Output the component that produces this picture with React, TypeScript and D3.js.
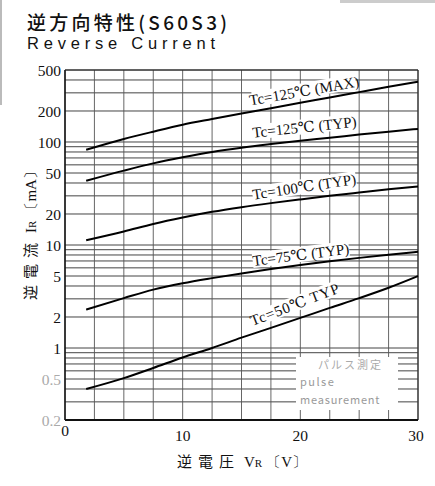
import React from "react";
import * as d3 from "d3";

const voltages = [1.8, 5, 7.5, 10, 12.5, 15, 17.5, 20, 22.5, 25, 27.5, 30];
const max125 = [84, 107, 126, 147, 167, 189, 213, 240, 271, 305, 343, 385];
const typ125 = [42, 52.7, 62, 71, 80, 88, 95.5, 103, 110, 118, 126, 134];
const typ100 = [11.1, 13.5, 16.0, 18.5, 21, 23.3, 25.5, 27.7, 30, 32.3, 34.7, 37];
const typ75 = [2.36, 3.05, 3.69, 4.25, 4.77, 5.3, 5.85, 6.4, 6.95, 7.5, 8.05, 8.6];
const typ50 = [0.4, 0.51, 0.64, 0.81, 1.0, 1.26, 1.57, 1.96, 2.45, 3.05, 3.85, 5.0];

const seriesNames = ["Tc=125℃ (MAX)", "Tc=125℃ (TYP)", "Tc=100℃ (TYP)", "Tc=75℃ (TYP)", "Tc=50℃  TYP"];
const seriesValues = [max125, typ125, typ100, typ75, typ50];
// label centre voltage, offset above curve (px), rotation (deg)
const labelV = [20.4, 20.4, 20.4, 20.1, 19.7];
const labelLift = [6, 8, 7, 5, 10];
const labelAngle = [-10, -6.2, -8.7, -7.3, -21];
const labelSpacing = [0, 0, 0, 0, 0.8];

const yTickLabels = [500, 200, 100, 50, 20, 10, 5, 2, 1, 0.5, 0.2];
const fadedTicks = [0.5, 0.2];
const xTickLabels = [0, 10, 20, 30];

const W = 435;
const H = 486;

export default function App() {
  const x = d3.scaleLinear().domain([0, 30]).range([65, 418]);
  const y = d3.scaleLog().domain([0.2, 500]).range([420, 70]);
  const gridY = y.ticks();
  const gridX = d3.range(0, 30.001, 2.5);

  const line = d3
    .line<number>()
    .x((_, i) => x(voltages[i]))
    .y((d) => y(d))
    .curve(d3.curveMonotoneX);

  const serif = "'Liberation Serif', 'DejaVu Serif', serif";
  const cjk = "'Noto Sans CJK JP', 'Noto Sans', sans-serif";
  const sans = "'Liberation Sans', Arial, sans-serif";

  const valueAt = (vals: number[], v: number) => {
    const logs = vals.map((d) => Math.log10(d));
    const interp = d3.scaleLinear().domain(voltages).range(logs);
    return Math.pow(10, interp(v));
  };

  return (
    <svg width={W} height={H} style={{ display: "block", position: "absolute", left: 0, top: 0 }}>
      <rect x={0} y={0} width={W} height={H} fill="#fff" />
      <rect x={0} y={0} width={2} height={105} fill="#bbb" />
      <rect x={340} y={0} width={95} height={3} fill="#ccc" />

      {/* title */}
      <text x={27} y={29.5} fontFamily={cjk} fontSize={19} fontWeight={500} fill="#111" textLength={200} lengthAdjust="spacing">
        逆方向特性(S60S3)
      </text>
      <text x={27} y={48.5} fontFamily={sans} fontSize={16.5} fill="#111" textLength={188} lengthAdjust="spacing">
        Reverse Current
      </text>

      {/* grid */}
      {gridY.map((v, i) => (
        <line key={"gy" + i} x1={x(0)} x2={x(30)} y1={y(v)} y2={y(v)} stroke="#444" strokeWidth={1} />
      ))}
      {gridX.map((v, i) => (
        <line key={"gx" + i} x1={x(v)} x2={x(v)} y1={y(500)} y2={y(0.2)} stroke="#555" strokeWidth={0.9} />
      ))}
      {/* frame */}
      <line x1={x(0)} x2={x(0)} y1={y(500)} y2={y(0.2)} stroke="#111" strokeWidth={1.5} />
      <line x1={x(30)} x2={x(30)} y1={y(500)} y2={y(0.2)} stroke="#333" strokeWidth={1.2} />
      <line x1={x(0)} x2={x(30)} y1={y(500)} y2={y(500)} stroke="#222" strokeWidth={1.2} />
      <line x1={x(0)} x2={x(30)} y1={y(0.2)} y2={y(0.2)} stroke="#111" strokeWidth={2} />

      {/* pulse measurement box */}
      <rect x={296} y={357} width={102} height={53} fill="#fff" />
      <text x={318} y={369} fontFamily={cjk} fontSize={11} fill="#aaa" letterSpacing={2}>
        パルス測定
      </text>
      <text x={300} y={386} fontFamily={cjk} fontSize={11} fill="#999" letterSpacing={1.5}>
        pulse
      </text>
      <text x={300} y={404} fontFamily={cjk} fontSize={11} fill="#999" letterSpacing={0.8}>
        measurement
      </text>

      {/* curves */}
      {seriesValues.map((vals, i) => (
        <path key={"c" + i} d={line(vals) || ""} fill="none" stroke="#000" strokeWidth={2} />
      ))}

      {/* curve labels */}
      {seriesNames.map((name, i) => {
        const cx = x(labelV[i]);
        const cy = y(valueAt(seriesValues[i], labelV[i])) - labelLift[i];
        const w = name.length * 7.6 + 6;
        return (
          <g key={"l" + i} transform={`translate(${cx},${cy}) rotate(${labelAngle[i]})`}>
            <rect x={-w / 2} y={-13} width={w} height={15} fill="#fff" />
            <text x={0} y={0} textAnchor="middle" fontFamily={serif} fontSize={15} fill="#111" letterSpacing={labelSpacing[i]}>
              {name}
            </text>
          </g>
        );
      })}

      {/* y tick labels */}
      {yTickLabels.map((v, i) => (
        <text
          key={"yt" + i}
          x={61}
          y={y(v) + 6}
          textAnchor="end"
          fontFamily={serif}
          fontSize={15.5}
          fill={fadedTicks.includes(v) ? "#aaa" : "#111"}
        >
          {v}
        </text>
      ))}

      {/* x tick labels */}
      {xTickLabels.map((v, i) => (
        <text
          key={"xt" + i}
          x={x(v) + (v === 30 ? -2 : 0)}
          y={v === 0 ? 436 : 441}
          textAnchor="middle"
          fontFamily={serif}
          fontSize={15.5}
          fill="#111"
        >
          {v}
        </text>
      ))}

      {/* axis titles */}
      <text x={242} y={467} textAnchor="middle" fontFamily={serif} fontSize={15} fill="#111">
        <tspan fontFamily={cjk} letterSpacing={6}>逆電圧</tspan>
        <tspan dx={4}>V</tspan>
        <tspan fontSize={11}>R</tspan>
        <tspan dx={4}>〔V〕</tspan>
      </text>
      <text
        transform="translate(36,232) rotate(-90)"
        textAnchor="middle"
        fontFamily={serif}
        fontSize={15}
        fill="#111"
      >
        <tspan fontFamily={cjk} letterSpacing={6}>逆電流</tspan>
        <tspan dx={4}>I</tspan>
        <tspan fontSize={11}>R</tspan>
        <tspan dx={4}>〔mA〕</tspan>
      </text>
    </svg>
  );
}
